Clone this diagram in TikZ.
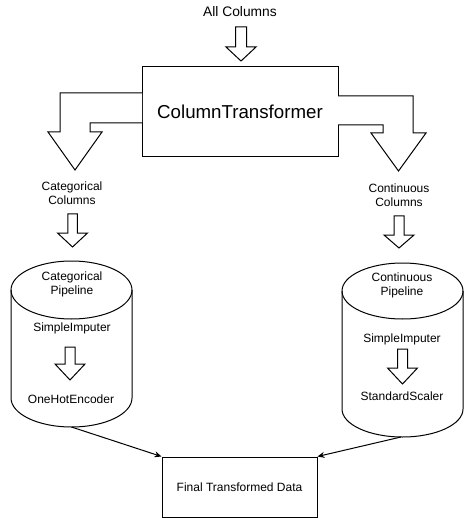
\documentclass[tikz,border=0pt]{standalone}
\usepackage{fontspec}
\setmainfont{Liberation Sans}
\usetikzlibrary{arrows.meta}
\tikzset{
  txt/.style={inner sep=0pt, align=center, font=\fontsize{12}{14}\selectfont},
  boxnode/.style={draw=black, line width=1pt, inner sep=0pt},
  blockarrow/.style={draw=black, fill=white, line width=1pt, line join=miter},
  cyl/.style={draw=black, line width=1pt},
  link/.style={draw=black, line width=1pt, -{Stealth[length=7pt,width=6pt]}}
}
% #1 cx, #2 shaft half width, #3 ytop, #4 ybase, #5 head half width, #6 ytip
\newcommand{\blkdown}[6]{%
  \draw[blockarrow] ({#1-#2},#3) -- ({#1-#2},#4) -- ({#1-#5},#4) -- (#1,#6)
    -- ({#1+#5},#4) -- ({#1+#2},#4) -- ({#1+#2},#3) -- cycle;}
\begin{document}
\begin{tikzpicture}[x=1pt,y=-1pt]
\useasboundingbox (0,0) rectangle (465,518);

% top label and arrow
\node[txt, font=\fontsize{13.8}{16}\selectfont] (allcols) at (240,12) {All Columns};
\blkdown{241}{5.5}{27}{47}{15}{61}

% ColumnTransformer box
\node[boxnode, minimum width=196pt, minimum height=90pt,
      font=\fontsize{18.7}{22}\selectfont] (ct) at (240,112) {ColumnTransformer};

% bent block arrows
\draw[blockarrow] (142,93) -- (60,93) -- (60,132) -- (48,132) -- (75,170)
  -- (102,132) -- (90,132) -- (90,123) -- (142,123);
\draw[blockarrow] (338,96) -- (413,96) -- (413,133) -- (426,133) -- (398.5,171)
  -- (371,133) -- (383,133) -- (383,125) -- (338,125);

% column labels
\node[txt] (catcols) at (72,193) {Categorical\\Columns};
\node[txt] (contcols) at (399,195) {Continuous\\Columns};

\blkdown{72.5}{4.75}{214}{233}{15}{247}
\blkdown{399}{5}{216}{235}{15}{248}

% left cylinder
\draw[cyl] (11,290) -- (11,398) arc[start angle=180, end angle=360, x radius=60.5pt, y radius=29pt] -- (132,290);
\draw[cyl] (71.5,290) ellipse[x radius=60.5, y radius=29];
\coordinate (catbot) at (71.5,427);

% right cylinder
\draw[cyl] (342,291) -- (342,409) arc[start angle=180, end angle=360, x radius=60.5pt, y radius=28pt] -- (463,291);
\draw[cyl] (402.5,291) ellipse[x radius=60.5, y radius=28];
\coordinate (contbot) at (401,437);

% left pipeline texts
\node[txt] (catpipe) at (72,284) {Categorical\\Pipeline};
\node[txt] (catimp) at (72,328) {SimpleImputer};
\blkdown{70}{5}{347}{364}{15}{380}
\node[txt] (onehot) at (71,399) {OneHotEncoder};

% right pipeline texts
\node[txt] (contpipe) at (402,285) {Continuous\\Pipeline};
\node[txt] (contimp) at (402,339) {SimpleImputer};
\blkdown{402.5}{5}{349}{368}{15}{384}
\node[txt] (scaler) at (402,396) {StandardScaler};

% final box
\node[boxnode, minimum width=155pt, minimum height=60pt, font=\fontsize{12}{14}\selectfont]
  (final) at (239.5,487) {Final Transformed Data};

% connectors
\draw[link] (catbot) -- (final.north west);
\draw[link] (contbot) -- (final.north east);
\end{tikzpicture}
\end{document}
